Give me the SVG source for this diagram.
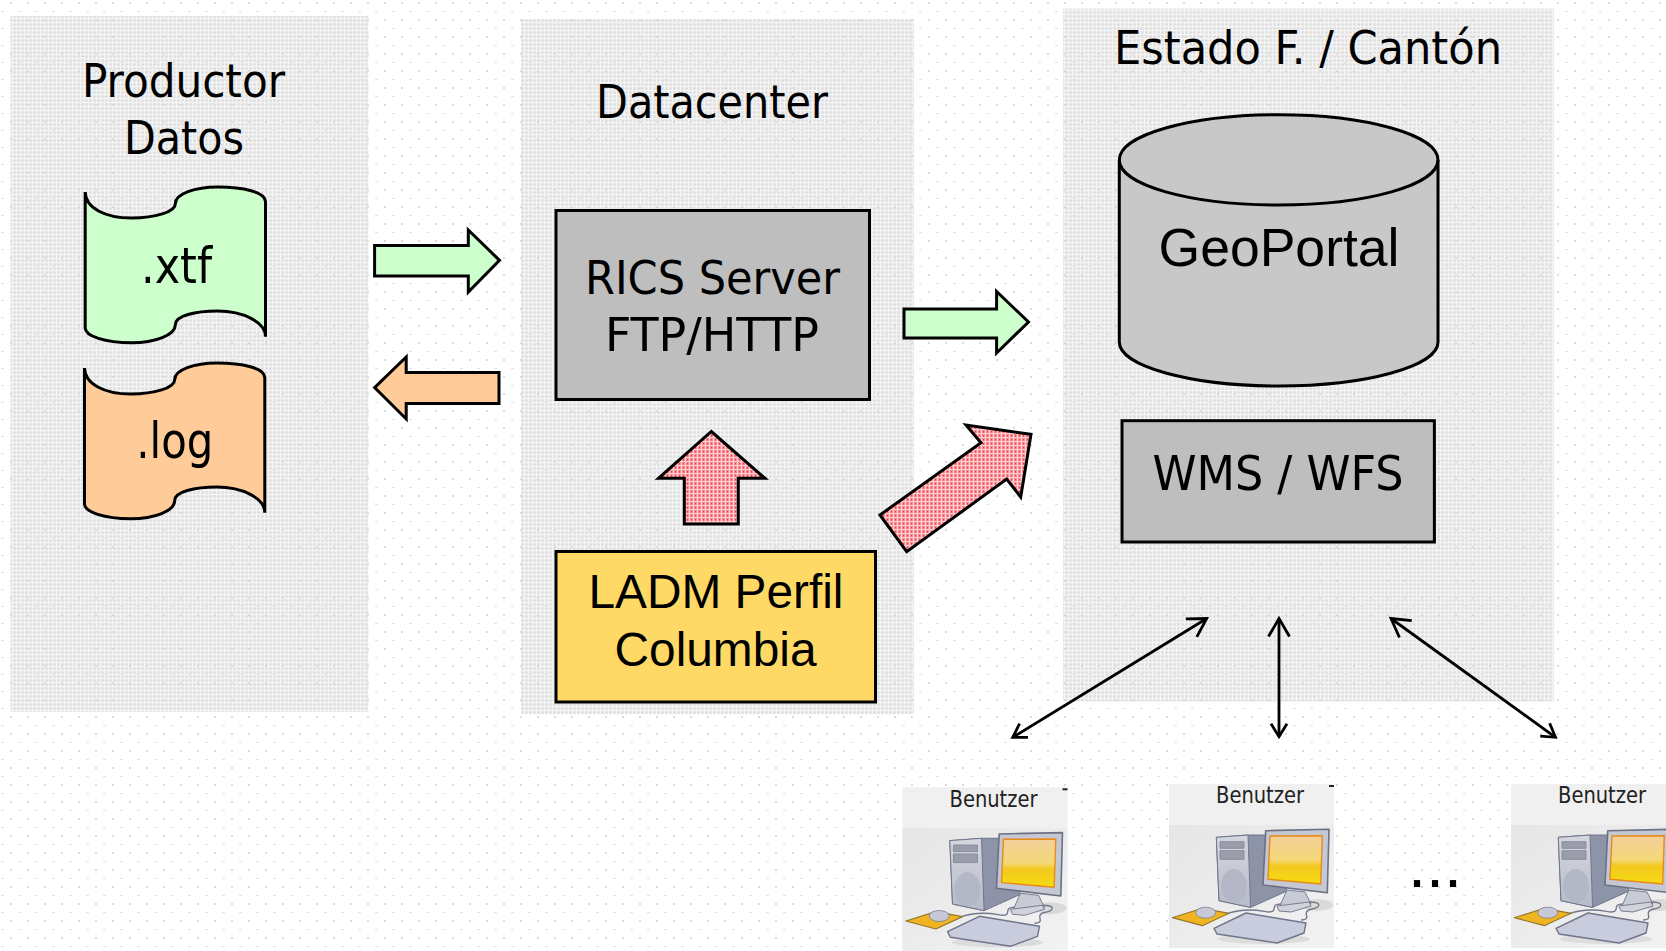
<svg xmlns="http://www.w3.org/2000/svg" xmlns:xlink="http://www.w3.org/1999/xlink" width="1666" height="951" viewBox="0 0 1666 951">
<style>
.ta{font-family:"DejaVu Sans","Noto Sans",sans-serif;font-stretch:condensed;fill:#000;text-anchor:start}
.ar{font-family:"Liberation Sans",Arial,sans-serif;fill:#000;text-anchor:start}
.sh{stroke:#000;stroke-width:3;stroke-linejoin:miter;stroke-miterlimit:8}
.g{fill:#ccffcc}.o{fill:#ffcc99}.r{fill:url(#red)}
.gr{fill:#bebebe}.cy{fill:#c8c8c8}.y{fill:#ffd966}
.ln{stroke:#000;stroke-width:2.8;fill:none;marker-end:url(#big);marker-start:url(#small)}
.ben{font-family:"DejaVu Sans","Noto Sans",sans-serif;font-stretch:condensed;font-size:23px;fill:#222}
</style>
<defs>
<filter id="soft" x="-5%" y="-5%" width="110%" height="110%"><feGaussianBlur stdDeviation="0.55"/></filter>
<pattern id="bgdots" width="17" height="17" patternUnits="userSpaceOnUse">
<rect x="10" y="2" width="2" height="2" fill="#dcdcdc"/>
<rect x="1" y="11" width="3" height="1" fill="#e2e2e2"/>
</pattern>
<pattern id="mesh" width="4" height="4" patternUnits="userSpaceOnUse">
<rect width="4" height="4" fill="#e6e6e6"/>
<rect x="0" y="0" width="1" height="4" fill="#f4f4f4"/>
<rect x="0" y="2" width="4" height="1" fill="#f4f4f4"/>
<rect x="2" y="0" width="1" height="1" fill="#d6d6d6"/>
</pattern>
<pattern id="red" width="4" height="4" patternUnits="userSpaceOnUse">
<rect width="4" height="4" fill="#f88c92"/>
<rect x="1" y="0" width="1" height="4" fill="#fdd4d4"/>
<rect x="0" y="1" width="4" height="1" fill="#fdccd0"/>
<rect x="3" y="3" width="1" height="1" fill="#f23e48"/>
<rect x="3" y="0" width="1" height="1" fill="#f8646c"/>
</pattern>
<linearGradient id="scr" x1="0" y1="0" x2="0" y2="1">
<stop offset="0" stop-color="#f2cf9a"/><stop offset=".5" stop-color="#f4d878"/><stop offset=".62" stop-color="#f2c820"/><stop offset="1" stop-color="#f6dc10"/>
</linearGradient>
<linearGradient id="low" x1="0" y1="0" x2="1" y2="1">
<stop offset="0" stop-color="#e6e6e6"/><stop offset="1" stop-color="#f2f2f2"/>
</linearGradient>
<linearGradient id="front" x1="0" y1="0" x2="0" y2="1">
<stop offset="0" stop-color="#d4d7df"/><stop offset="1" stop-color="#b8bcc9"/>
</linearGradient>
<marker id="big" markerUnits="userSpaceOnUse" viewBox="-22 -13 26 26" refX="0" refY="0" markerWidth="26" markerHeight="26" orient="auto">
<path d="M-18,-10.5 L0,0 L-18,10.5" fill="none" stroke="#000" stroke-width="2.8"/>
</marker>
<marker id="small" markerUnits="userSpaceOnUse" viewBox="-4 -11 22 22" refX="0" refY="0" markerWidth="22" markerHeight="22" orient="auto">
<path d="M13,-8 L0,0 L13,8" fill="none" stroke="#000" stroke-width="2.8"/>
</marker>
<g id="pc">
<rect width="165" height="164" fill="#f0f0f0"/>
<rect y="41" width="165" height="123" fill="url(#low)"/>
<g filter="url(#soft)" stroke-linejoin="round">
<ellipse cx="148" cy="121" rx="16" ry="6" fill="#dadada"/>
<ellipse cx="95" cy="155" rx="46" ry="5" fill="#dcdcdc"/>
<polygon points="47.3,53.3 79,51 97,51 118,107 81.6,123.4 50,116.7" fill="#8e94a8" stroke="#70758a" stroke-width="1"/>
<polygon points="47.3,53.3 79,51 81.6,123.4 50,116.7" fill="url(#front)" stroke="#70758a" stroke-width="1"/>
<rect x="51" y="57.7" width="24" height="6.6" fill="#9a9eac" stroke="#80838f" stroke-width=".8"/>
<rect x="51" y="66.7" width="24" height="8.6" fill="#9a9eac" stroke="#80838f" stroke-width=".8"/>
<ellipse cx="65" cy="102" rx="13" ry="17" fill="#b4b8c6"/>
<polygon points="118,106 136,108 142,120 110,124" fill="#c7cbd6" stroke="#7a7e8e" stroke-width="1"/>
<polygon points="108,122 140,118 142,122 122,128 110,127" fill="#d0d3dc" stroke="#7a7e8e" stroke-width="1"/>
<polygon points="96.7,46.7 160,45.3 158.3,108.7 94,101" fill="#c4c8d4" stroke="#6c7082" stroke-width="1.6"/>
<polygon points="101,52 153.3,51.7 151.7,100 99,95.3" fill="url(#scr)" stroke="#e88a1c" stroke-width="1.4"/>
<path d="M57,130 C80,122 95,128 100,128 C110,128 100,120 112,120 M140,118 C155,118 150,124 143,125 C130,128 145,135 132,136" fill="none" stroke="#74788a" stroke-width="1.4"/>
<polygon points="3.3,133.7 33.3,124.3 60,129.3 33.3,141.7" fill="#f0b420" stroke="#94782c" stroke-width="1.2"/>
<ellipse cx="36.7" cy="128.7" rx="10" ry="5.5" fill="#c7cad6" stroke="#7a7e8e" stroke-width=".8"/>
<polygon points="45,144.3 77,129 137,139 135,149 108,159 48,150" fill="#c8ccdc" stroke="#70748a" stroke-width="1.4"/>
</g>
<rect x="160" y="1" width="5" height="2" fill="#222"/>
</g>
</defs>

<rect id="background" width="1666" height="951" fill="#fff"/>
<rect width="1666" height="951" fill="url(#bgdots)"/>

<g id="panel-productor">
<rect x="10.5" y="16" width="358" height="696" fill="url(#mesh)"/>
<rect x="10.5" y="16" width="358" height="696" fill="url(#bgdots)"/>
<text class="ta" font-size="46" x="82" y="97" textLength="203" lengthAdjust="spacingAndGlyphs">Productor</text>
<text class="ta" font-size="46" x="124" y="154" textLength="120" lengthAdjust="spacingAndGlyphs">Datos</text>
</g>
<g id="panel-datacenter">
<rect x="521" y="19" width="393" height="695" fill="url(#mesh)"/>
<rect x="521" y="19" width="393" height="695" fill="url(#bgdots)"/>
<text class="ta" font-size="46" x="596" y="118" textLength="232" lengthAdjust="spacingAndGlyphs">Datacenter</text>
</g>
<g id="panel-estado">
<rect x="1063" y="8.5" width="491" height="693" fill="url(#mesh)"/>
<rect x="1063" y="8.5" width="491" height="693" fill="url(#bgdots)"/>
<text class="ta" font-size="46" x="1114" y="64" textLength="388" lengthAdjust="spacingAndGlyphs">Estado F. / Cantón</text>
</g>

<g id="file-xtf">
<path class="sh g" d="M85.2,192 C85.5,208 105,218 131.5,218 C155,218 175.4,212 175.4,203.4 C175.4,194 195,187 217.5,187 C243,187 265.5,192 265.5,201.7 L265.5,336.7 C265.5,322 243,311 217.5,311 C195,311 175.4,316 175.4,324.4 C175.4,335 155,342.7 131.5,342.7 C105,342.7 85.2,336 85.2,328 Z"/>
<text class="ta" font-size="50" x="141" y="283" textLength="71" lengthAdjust="spacingAndGlyphs">.xtf</text>
</g>
<g id="file-log" transform="translate(-0.7 176)">
<path class="sh o" d="M85.2,192 C85.5,208 105,218 131.5,218 C155,218 175.4,212 175.4,203.4 C175.4,194 195,187 217.5,187 C243,187 265.5,192 265.5,201.7 L265.5,336.7 C265.5,322 243,311 217.5,311 C195,311 175.4,316 175.4,324.4 C175.4,335 155,342.7 131.5,342.7 C105,342.7 85.2,336 85.2,328 Z"/>
<text class="ta" font-size="50" x="137" y="282" textLength="77" lengthAdjust="spacingAndGlyphs">.log</text>
</g>
<g id="rics-server">
<rect class="sh gr" x="556" y="210.5" width="313.5" height="189"/>
<text class="ta" font-size="46" x="585" y="294" textLength="255" lengthAdjust="spacingAndGlyphs">RICS Server</text>
<text class="ta" font-size="46" x="605" y="351" textLength="214" lengthAdjust="spacingAndGlyphs">FTP/HTTP</text>
</g>
<g id="ladm-perfil">
<rect class="sh y" x="556" y="551.5" width="319.5" height="150.5"/>
<text class="ar" font-size="48" x="588.5" y="607.5" textLength="255" lengthAdjust="spacingAndGlyphs">LADM Perfil</text>
<text class="ar" font-size="48" x="614.5" y="666" textLength="202" lengthAdjust="spacingAndGlyphs">Columbia</text>
</g>
<g id="geoportal">
<path class="sh cy" d="M1119.3,160 L1119.3,342 C1119.3,366 1190,386 1278.6,386 C1367,386 1438,366 1438,342 L1438,160 C1438,135 1367,114.7 1278.6,114.7 C1190,114.7 1119.3,135 1119.3,160 Z"/>
<path class="sh" fill="none" d="M1119.3,160 C1119.3,185 1190,205 1278.6,205 C1367,205 1438,185 1438,160"/>
<text class="ar" font-size="54" x="1158.5" y="266" textLength="241" lengthAdjust="spacingAndGlyphs">GeoPortal</text>
</g>
<g id="wms-wfs">
<rect class="sh gr" x="1122" y="420.7" width="312.4" height="121.3"/>
<text class="ta" font-size="48" x="1152.5" y="490" textLength="251" lengthAdjust="spacingAndGlyphs">WMS / WFS</text>
</g>

<g id="connectors">
<polygon class="sh g" points="374.6,245.5 468.3,245.5 468.3,230 499.5,260.3 468.3,292 468.3,276 374.6,276"/>
<polygon class="sh o" points="374.6,387.6 406.2,357 406.2,372.5 499,372.5 499,403.4 406.2,403.4 406.2,419"/>
<polygon class="sh g" points="904,309 996.6,309 996.6,291.5 1028.5,322 996.6,353 996.6,338 904,338"/>
<polygon class="sh r" points="711.3,431.5 765,478.3 738.3,478.3 738.3,524 684.3,524 684.3,478.3 658.5,478.3"/>
<polygon class="sh r" points="880,515 981,442.7 966,425 1031,434.3 1020.7,497 1006.7,479 906.7,551.7"/>
<path class="ln" d="M1012.7,737.3 L1206.7,618.5"/>
<path class="ln" d="M1279,736.7 L1279,618.5"/>
<path class="ln" d="M1555.5,737.3 L1391,618.5"/>
</g>

<g id="user-1">
<use xlink:href="#pc" href="#pc" x="902.5" y="787.3"/>
<text class="ben" x="949.5" y="806.7" textLength="88" lengthAdjust="spacingAndGlyphs">Benutzer</text>
</g>
<g id="user-2">
<use xlink:href="#pc" href="#pc" x="1169" y="784"/>
<text class="ben" x="1216" y="803.4" textLength="88" lengthAdjust="spacingAndGlyphs">Benutzer</text>
</g>
<text id="ellipsis" class="ar" font-size="64.8" x="1408" y="887">...</text>
<g id="user-3">
<use xlink:href="#pc" href="#pc" x="1511" y="784"/>
<text class="ben" x="1558" y="803.4" textLength="88" lengthAdjust="spacingAndGlyphs">Benutzer</text>
</g>
</svg>
